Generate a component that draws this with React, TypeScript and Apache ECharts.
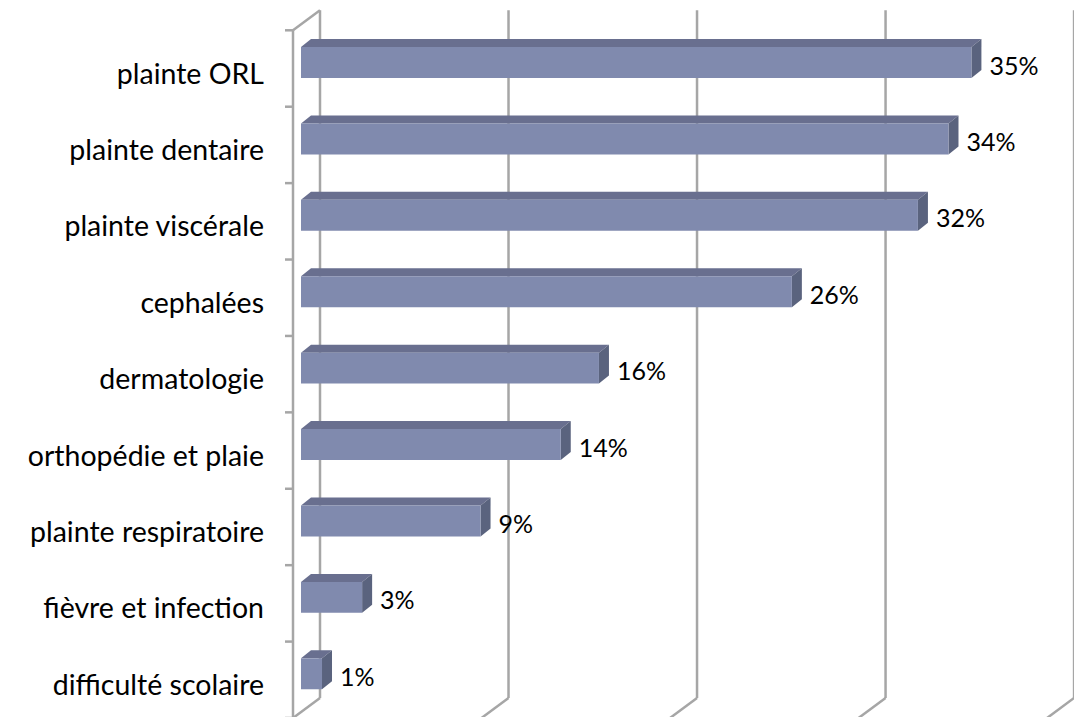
import React, { useEffect, useRef } from "react";
import * as echarts from "echarts";

const categories = [
  "plainte ORL",
  "plainte dentaire",
  "plainte viscérale",
  "cephalées",
  "dermatologie",
  "orthopédie et plaie",
  "plainte respiratoire",
  "fièvre et infection",
  "difficulté scolaire",
];
const values = [35.1, 33.9, 32.3, 25.7, 15.6, 13.6, 9.4, 3.2, 1.1];
const valueLabels = ["35%", "34%", "32%", "26%", "16%", "14%", "9%", "3%", "1%"];
const gridTicks = [0, 10, 20, 30, 40];

const FONT = "Lato";
const GRID_COLOR = "#a6a6a6";
const FRONT = "#808aae";
const TOP = "#696f8f";
const SIDE = "#5a637e";

// 3D offsets (pixels) relative to the bar plane
const FRONT_DX = -8, FRONT_DY = 6;
const BACK_DX = 19, BACK_DY = -14;
const BAR_DX = 10, BAR_DY = 8;
const BACK_RATIO = 0.987;

export default function App() {
  const ref = useRef<HTMLDivElement>(null);
  useEffect(() => {
    if (!ref.current) return;
    const chart = echarts.init(ref.current, undefined, { renderer: "svg" });
    const lineStyle = { stroke: GRID_COLOR, lineWidth: 2.5 };
    chart.setOption({
      animation: false,
      backgroundColor: "#ffffff",
      grid: { left: 301, right: 9, top: 24.3, bottom: 5, containLabel: false },
      xAxis: {
        type: "value",
        min: 0,
        max: 40,
        interval: 10,
        axisLine: { show: false },
        axisTick: { show: false },
        axisLabel: { show: false },
        splitLine: { show: false },
      },
      yAxis: {
        type: "category",
        inverse: true,
        data: categories,
        axisLine: { show: false },
        axisTick: { show: false },
        splitLine: { show: false },
        axisLabel: { show: false },
      },
      series: [
        {
          type: "custom",
          clip: false,
          z: 1,
          data: gridTicks.map((v) => [v, 0]),
          encode: { x: 0, y: 1 },
          renderItem: (params: any, api: any) => {
            const cs = params.coordSys;
            const v = api.value(0);
            const xf = api.coord([v, 0])[0];
            const xb = cs.x + (xf - cs.x) * BACK_RATIO + BACK_DX;
            const yTopB = cs.y + BACK_DY;
            const yBotB = cs.y + cs.height + BACK_DY;
            const ddx = FRONT_DX - BACK_DX;
            const ddy = FRONT_DY - BACK_DY;
            const children: any[] = [
              { type: "line", shape: { x1: xb, y1: yTopB, x2: xb, y2: yBotB }, style: lineStyle },
              { type: "line", shape: { x1: xb, y1: yBotB, x2: xb + ddx, y2: yBotB + ddy }, style: lineStyle },
            ];
            if (v === 0) {
              const xfr = cs.x + FRONT_DX;
              children.push(
                { type: "line", shape: { x1: xb, y1: yTopB, x2: xb + ddx, y2: yTopB + ddy }, style: lineStyle },
                { type: "line", shape: { x1: xfr, y1: cs.y + FRONT_DY, x2: xfr, y2: cs.y + cs.height + FRONT_DY }, style: lineStyle }
              );
              const band = cs.height / categories.length;
              for (let k = 0; k <= categories.length; k++) {
                const y = cs.y + FRONT_DY + k * band;
                children.push({ type: "line", shape: { x1: xfr - 8, y1: y, x2: xfr, y2: y }, style: lineStyle });
              }
            }
            return { type: "group", children };
          },
        },
        {
          type: "custom",
          clip: false,
          z: 2,
          data: values.map((v, i) => [v, i]),
          encode: { x: 0, y: 1 },
          renderItem: (params: any, api: any) => {
            const v = api.value(0);
            const idx = api.value(1);
            const [xEnd, yc] = api.coord([v, idx]);
            const x0 = api.coord([0, idx])[0];
            const band = api.size([0, 1])[1];
            const h = band * 0.405;
            const yT = yc - h / 2;
            const yB = yc + h / 2;
            return {
              type: "group",
              children: [
                {
                  type: "polygon",
                  shape: { points: [[x0, yT], [xEnd, yT], [xEnd + BAR_DX, yT - BAR_DY], [x0 + BAR_DX, yT - BAR_DY]] },
                  style: { fill: TOP },
                },
                {
                  type: "polygon",
                  shape: { points: [[xEnd, yT], [xEnd + BAR_DX, yT - BAR_DY], [xEnd + BAR_DX, yB - BAR_DY], [xEnd, yB]] },
                  style: { fill: SIDE },
                },
                {
                  type: "rect",
                  shape: { x: x0, y: yT, width: xEnd - x0, height: h },
                  style: { fill: FRONT },
                },
                {
                  type: "text",
                  x: xEnd + 18,
                  y: yc + 2,
                  style: {
                    text: valueLabels[idx],
                    fill: "#000000",
                    fontSize: 25,
                    fontFamily: FONT,
                    align: "left",
                    verticalAlign: "middle",
                  },
                },
                {
                  type: "text",
                  x: x0 - 37,
                  y: yc + 10,
                  style: {
                    text: categories[idx],
                    fill: "#000000",
                    fontSize: 28.5,
                    fontFamily: FONT,
                    align: "right",
                    verticalAlign: "middle",
                  },
                },
              ],
            };
          },
        },
      ],
    });
    return () => chart.dispose();
  }, []);
  return (
    <div
      ref={ref}
      style={{ position: "fixed", left: 0, top: 0, width: 1074, height: 717, background: "#fff" }}
    />
  );
}
